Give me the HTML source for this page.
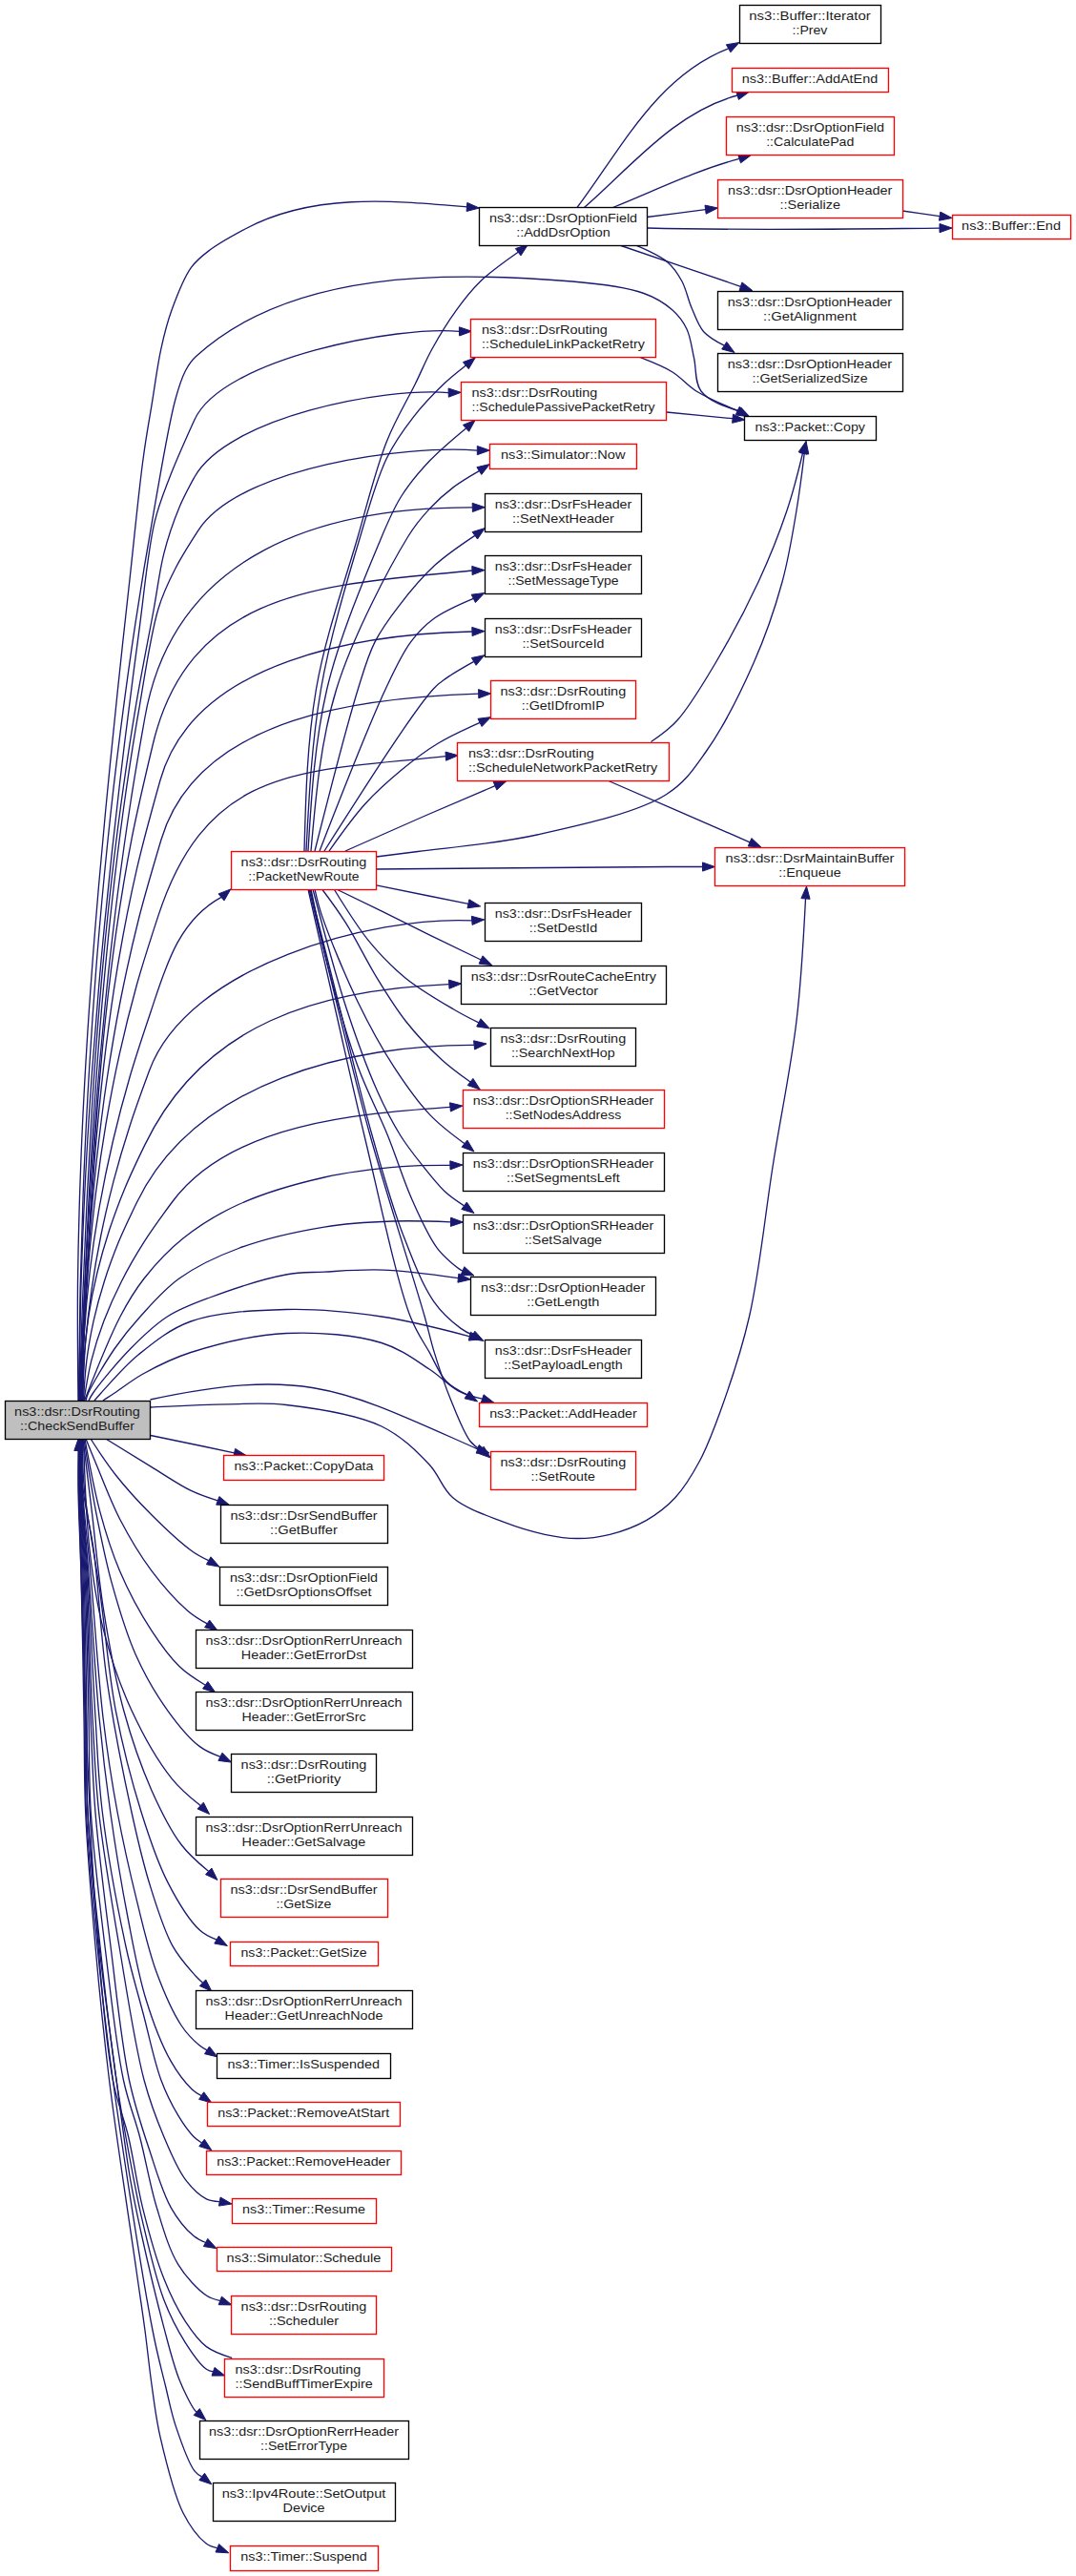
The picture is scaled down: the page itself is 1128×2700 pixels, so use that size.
<!DOCTYPE html><html><head><meta charset="utf-8"><style>html,body{margin:0;padding:0;background:#fff;}svg{display:block;}text{font-family:"Liberation Sans",sans-serif;font-size:12.9px;fill:#1c1c1c;}</style></head><body>
<svg width="1128" height="2700" viewBox="0 0 1128 2700">
<g fill="none" stroke="#191970" stroke-width="1.33">
<path d="M605.0,217.5C650.6,157.0 688.3,80.0 763.6,50.8"/>
<path d="M612.5,217.5C661.1,175.3 707.9,117.1 773.1,100.0"/>
<path d="M642.5,217.5C686.4,199.9 729.1,178.7 775.1,166.4"/>
<path d="M678.5,227.5C698.9,224.9 719.2,222.3 739.6,219.7"/>
<path d="M678.5,239.0C780.2,241.7 882.5,240.1 985.0,239.1"/>
<path d="M946.0,221.0C959.0,222.9 972.1,224.8 985.1,226.6"/>
<path d="M651.0,257.5C692.8,271.8 734.6,286.0 776.4,300.3"/>
<path d="M667.5,257.5C679.6,262.7 691.8,267.9 700.0,275.0C706.8,280.8 710.9,287.5 715.0,295.0C719.4,303.2 721.2,313.7 725.0,322.5C728.7,331.1 731.7,340.8 737.5,347.5C743.2,354.0 751.2,358.1 759.2,362.2"/>
<path d="M670.0,374.2C682.3,379.0 694.7,383.7 705.0,390.0C714.4,395.8 720.1,403.8 730.0,410.0C742.1,417.5 757.7,424.0 773.2,430.4"/>
<path d="M698.8,432.0C721.9,434.2 745.0,436.5 768.1,438.7"/>
<path d="M682.5,777.5C691.6,771.3 700.8,765.2 710.0,755.0C723.2,740.5 736.8,717.1 750.0,695.0C765.2,669.5 782.1,637.8 795.0,610.0C806.8,584.5 817.0,558.8 825.0,535.0C832.0,514.1 836.8,494.6 841.5,475.0"/>
<path d="M394.5,898.0C407.1,896.5 419.8,894.9 438.0,892.5C468.9,888.4 520.9,884.4 563.0,875.0C607.5,865.0 667.3,852.3 698.0,833.0C718.2,820.3 726.6,806.8 740.0,788.0C757.6,763.4 776.4,725.8 790.0,695.0C802.6,666.5 812.4,637.7 820.0,610.0C827.0,584.5 831.0,558.6 835.0,535.0C838.5,514.0 840.9,494.7 843.2,475.4"/>
<path d="M394.5,911.0C433.0,910.7 471.5,910.3 510.0,910.0C573.3,909.5 636.7,909.0 700.0,908.5C712.2,908.4 724.3,908.5 736.5,908.5"/>
<path d="M638.0,818.5C687.4,839.9 736.7,861.4 786.1,882.8"/>
<path d="M157.5,1475.0C186.0,1473.6 214.6,1472.1 239.9,1471.8C261.5,1471.5 277.6,1469.9 300.0,1472.5C329.3,1475.9 373.5,1482.3 400.0,1495.0C420.9,1505.1 436.9,1521.2 450.0,1535.0C460.7,1546.3 463.5,1560.4 475.0,1570.0C488.4,1581.3 511.3,1588.8 528.3,1595.4C543.1,1601.1 557.4,1605.4 571.0,1608.3C582.9,1610.8 593.8,1612.5 605.2,1612.5C616.6,1612.5 627.8,1611.2 639.4,1608.3C652.1,1605.1 666.3,1599.9 677.9,1593.3C689.0,1587.0 698.9,1579.4 707.8,1569.8C717.6,1559.2 725.9,1545.5 733.5,1531.3C741.8,1515.8 747.6,1500.1 754.9,1480.0C764.9,1452.4 776.9,1417.6 785.5,1380.0C796.3,1333.2 802.1,1272.5 810.5,1220.0C818.6,1169.2 829.3,1118.1 835.0,1070.0C840.3,1025.8 842.4,983.9 844.5,942.0"/>
<path d="M82.0,1468.0C81.5,1426.8 81.1,1385.7 81.5,1344.5C82.0,1303.3 83.1,1262.2 84.7,1221.0C86.2,1179.8 88.4,1138.7 90.9,1097.5C93.4,1056.3 96.4,1015.2 99.7,974.0C103.0,932.8 106.7,891.7 110.6,850.5C114.5,809.3 118.7,768.2 123.0,727.0C127.3,685.8 131.8,644.7 136.4,603.5C140.9,562.3 145.6,513.5 150.2,480.0C153.3,456.9 156.4,440.8 159.5,421.6C162.6,402.8 165.0,382.9 168.8,365.8C172.0,351.0 175.0,338.7 180.0,325.0C185.4,310.2 192.4,291.5 200.4,280.4C206.3,272.2 212.0,268.0 220.0,262.0C230.1,254.4 243.5,247.2 257.0,240.0C328.1,201.9 411.9,210.2 489.4,216.9"/>
<path d="M82.5,1468.0C82.9,1429.2 83.3,1390.4 84.1,1351.6C85.0,1312.7 86.2,1273.9 87.8,1235.1C89.4,1196.3 91.3,1157.5 93.7,1118.7C96.0,1079.8 98.7,1041.0 101.8,1002.2C105.0,963.4 108.5,924.6 112.5,885.8C116.5,846.9 120.9,808.1 125.9,769.3C130.8,730.5 136.1,691.7 142.0,652.9C147.9,614.0 154.3,575.2 161.2,536.4C168.1,497.6 176.4,446.5 183.5,420.0C187.3,405.9 190.1,396.6 194.6,388.2C197.9,382.0 201.5,377.2 205.8,373.3C305.7,282.4 470.0,284.4 600.0,295.0C628.1,297.3 656.1,300.7 675.0,307.5C687.8,312.1 697.2,318.1 705.0,325.0C711.6,330.9 716.3,337.2 720.0,345.0C724.1,353.6 725.1,364.6 727.5,375.0C730.1,386.2 728.1,400.9 735.0,410.0C742.7,420.2 758.6,425.5 774.5,430.9"/>
<path d="M83.0,1468.0C83.4,1429.7 83.8,1391.3 84.8,1353.0C85.9,1314.6 87.5,1276.3 89.4,1238.0C91.4,1199.6 93.8,1161.3 96.5,1123.0C99.3,1084.6 102.5,1046.3 105.9,1008.0C109.4,969.6 113.3,931.3 117.4,892.9C121.6,854.6 126.0,816.2 130.7,777.9C135.4,739.6 140.4,701.2 145.6,662.9C150.8,624.6 154.9,577.7 161.9,547.9C166.6,528.2 171.6,516.7 178.0,500.0C185.3,481.0 194.6,460.5 203.9,440.0C233.3,375.2 420.2,340.8 481.5,347.4"/>
<path d="M83.0,1468.0C84.1,1433.4 85.2,1398.8 86.5,1364.2C87.9,1329.7 89.3,1295.1 91.0,1260.5C92.7,1225.9 94.5,1191.3 96.7,1156.8C98.9,1122.2 101.4,1087.6 104.3,1053.0C107.1,1018.4 110.3,983.8 114.0,949.2C117.7,914.6 121.8,880.0 126.5,845.5C131.2,810.9 136.3,776.3 142.1,741.8C147.9,707.1 155.9,667.6 161.3,638.0C165.4,615.8 167.2,598.1 171.9,579.8C176.2,562.9 182.0,546.1 187.9,531.9C192.8,520.0 198.4,510.0 203.9,500.0C238.4,437.6 401.5,405.8 470.2,411.6"/>
<path d="M83.5,1468.0C84.9,1433.4 86.3,1398.8 87.9,1364.2C89.5,1329.7 91.1,1295.1 92.9,1260.5C94.8,1225.9 96.7,1191.3 99.1,1156.8C101.4,1122.2 103.9,1087.6 106.9,1053.0C109.9,1018.4 113.2,983.8 117.0,949.2C120.8,914.6 125.0,880.0 129.8,845.5C134.6,810.9 139.9,776.3 146.0,741.8C152.0,707.1 157.9,664.6 166.0,638.0C171.3,620.5 176.9,609.4 183.9,595.8C190.9,582.1 199.4,569.0 207.9,555.9C251.1,489.4 425.8,466.2 500.3,472.1"/>
<path d="M84.0,1468.0C85.1,1438.2 86.3,1408.3 87.7,1378.5C89.0,1348.7 90.5,1318.8 92.2,1289.0C93.9,1259.2 95.7,1229.3 97.9,1199.5C100.0,1169.7 102.3,1139.8 104.9,1110.0C107.5,1080.2 110.4,1050.3 113.5,1020.5C116.8,990.7 120.2,960.8 124.1,931.0C128.0,901.1 132.2,871.3 136.8,841.5C141.4,811.6 146.6,781.8 151.9,752.0C182.3,578.0 340.6,531.6 495.3,531.9"/>
<path d="M84.0,1468.0C85.8,1435.2 87.6,1402.5 89.4,1369.7C91.2,1337.0 92.8,1304.2 94.7,1271.4C96.7,1238.7 98.7,1205.9 101.2,1173.1C103.7,1140.4 106.4,1107.6 109.8,1074.9C113.2,1042.1 117.1,1009.3 121.8,976.6C126.5,943.8 131.8,911.0 138.2,878.3C144.7,845.4 152.5,812.7 160.3,780.0C200.2,612.8 348.6,613.2 494.9,598.0"/>
<path d="M84.5,1468.0C86.0,1437.0 87.5,1406.1 89.1,1375.1C90.8,1344.2 92.3,1313.2 94.4,1282.3C96.5,1251.3 98.6,1220.4 101.4,1189.4C104.2,1158.5 107.3,1127.5 111.2,1096.6C115.1,1065.6 119.5,1034.6 124.9,1003.7C130.2,972.7 136.3,941.7 143.4,910.9C150.6,879.8 159.2,848.9 167.9,818.0C203.8,689.8 383.6,664.4 494.9,662.0"/>
<path d="M85.0,1468.0C86.0,1440.0 87.0,1412.0 88.5,1384.0C89.9,1356.0 91.5,1328.0 93.7,1300.0C95.8,1272.0 98.3,1244.0 101.3,1216.0C104.4,1188.0 107.8,1160.0 112.0,1132.0C116.2,1104.0 120.9,1075.9 126.4,1048.0C132.0,1019.9 138.2,991.9 145.2,964.0C152.3,935.9 160.7,908.0 169.0,880.0C208.4,747.9 387.9,730.9 501.7,727.2"/>
<path d="M85.5,1468.0C86.2,1443.8 86.9,1419.6 88.2,1395.4C89.4,1371.2 91.0,1347.0 93.0,1322.8C95.1,1298.6 97.5,1274.4 100.5,1250.2C103.5,1226.0 107.0,1201.8 111.1,1177.7C115.2,1153.4 119.8,1129.2 125.2,1105.1C130.6,1080.8 136.6,1056.6 143.3,1032.5C150.1,1008.2 158.0,984.0 165.9,959.9C218.5,799.1 320.6,809.0 467.3,792.6"/>
<path d="M86.0,1468.0C86.4,1445.3 86.8,1422.6 88.2,1400.0C89.6,1377.3 91.6,1354.6 94.3,1332.0C97.0,1309.3 100.4,1286.6 104.4,1264.0C108.4,1241.3 113.1,1218.6 118.4,1196.0C123.7,1173.3 129.7,1150.6 136.3,1128.0C143.0,1105.2 150.6,1082.6 158.2,1060.0C173.3,1015.1 186.1,965.5 232.0,940.4"/>
<path d="M86.5,1468.0C87.2,1448.8 87.9,1429.5 89.4,1410.3C91.0,1391.1 93.2,1371.8 95.9,1352.7C98.6,1333.4 101.9,1314.2 105.8,1295.0C109.7,1275.7 114.2,1256.5 119.2,1237.3C124.3,1218.0 130.0,1198.8 136.2,1179.7C142.4,1160.4 149.5,1141.2 156.6,1122.0C197.3,1011.7 390.2,960.1 494.7,964.9"/>
<path d="M87.0,1468.0C87.0,1453.1 87.1,1438.2 88.1,1423.3C89.0,1408.4 90.7,1393.5 93.0,1378.6C95.3,1363.7 98.3,1348.8 101.9,1334.0C105.5,1319.0 109.8,1304.1 114.6,1289.3C119.6,1274.3 125.1,1259.4 131.3,1244.6C137.5,1229.6 144.7,1214.7 151.9,1199.9C213.9,1071.5 335.3,1037.3 470.7,1031.7"/>
<path d="M87.5,1468.0C88.3,1454.1 89.0,1440.2 90.8,1426.4C92.5,1412.5 95.0,1398.6 98.0,1384.8C101.1,1370.9 104.9,1357.0 109.3,1343.2C113.7,1329.2 118.8,1315.4 124.4,1301.6C130.2,1287.6 136.9,1273.8 143.6,1260.0C205.3,1132.8 369.1,1094.8 497.1,1095.4"/>
<path d="M88.0,1468.0C90.1,1454.1 92.3,1440.2 95.7,1426.4C99.2,1412.4 103.6,1398.5 108.8,1384.8C114.1,1370.8 120.3,1356.9 127.3,1343.2C134.4,1329.1 142.4,1315.3 151.1,1301.6C160.1,1287.5 170.2,1273.8 180.4,1260.0C242.3,1176.1 379.2,1167.2 472.0,1160.4"/>
<path d="M88.5,1468.0C101.2,1435.6 113.8,1403.3 126.0,1380.0C134.5,1363.7 140.9,1353.0 151.1,1340.0C162.4,1325.6 176.2,1310.5 191.9,1298.0C208.8,1284.5 227.8,1272.6 250.0,1262.5C276.1,1250.6 310.4,1240.7 340.0,1234.0C367.6,1227.8 397.8,1224.7 421.8,1222.7C440.5,1221.2 456.2,1221.3 471.9,1221.4"/>
<path d="M90.0,1468.0C90.5,1465.8 91.0,1463.6 92.6,1460.0C96.8,1450.8 110.6,1427.4 120.2,1413.5C128.8,1401.1 136.7,1391.3 147.0,1380.0C158.9,1366.9 171.8,1351.5 187.9,1340.0C205.6,1327.3 226.8,1317.1 250.0,1308.5C276.7,1298.5 311.5,1290.8 340.0,1286.1C365.1,1281.9 388.7,1280.8 411.6,1280.0C432.7,1279.2 452.6,1280.0 472.5,1280.8"/>
<path d="M93.0,1468.0C94.0,1465.8 95.1,1463.6 97.6,1460.0C104.1,1450.7 123.3,1427.3 136.9,1413.5C149.3,1400.9 161.4,1389.0 175.4,1380.0C189.1,1371.2 202.7,1366.4 219.9,1360.0C242.4,1351.6 277.5,1340.1 299.8,1336.0C315.3,1333.1 325.2,1333.9 340.0,1333.1C358.3,1332.1 379.6,1330.3 401.3,1331.1C426.0,1332.0 453.2,1335.8 480.4,1339.6"/>
<path d="M99.0,1468.0C100.8,1465.8 102.7,1463.6 106.0,1460.0C113.7,1451.7 130.1,1432.1 145.0,1420.0C161.1,1406.9 177.9,1393.0 200.0,1385.0C227.5,1375.1 266.6,1373.3 300.0,1372.5C333.3,1371.7 367.5,1375.2 400.0,1380.0C431.6,1384.7 461.9,1392.7 492.3,1400.7"/>
<path d="M108.0,1468.0C111.6,1465.6 115.3,1463.3 120.2,1460.0C128.0,1454.9 138.5,1446.4 150.0,1440.0C164.2,1432.1 180.0,1423.9 200.0,1417.5C227.2,1408.8 266.5,1399.1 300.0,1397.5C333.2,1395.9 373.1,1399.1 400.0,1407.5C420.3,1413.8 435.7,1425.8 450.0,1435.0C461.7,1442.5 470.3,1452.5 480.4,1457.8C488.8,1462.2 497.3,1464.2 505.7,1466.2"/>
<path d="M157.5,1467.0C321.6,1432.1 359.8,1456.4 500.7,1518.8"/>
<path d="M319.0,892.0C320.5,834.7 322.0,777.4 331.5,722.0C340.9,667.4 361.8,608.9 375.3,562.0C386.0,524.9 394.0,491.3 405.4,462.7C414.6,439.6 426.8,419.7 435.5,402.0C442.2,388.3 446.3,377.8 453.1,365.5C460.4,352.2 469.4,337.5 478.2,325.3C486.2,314.2 493.4,304.8 503.3,295.2C514.6,284.3 528.9,274.3 543.2,264.3"/>
<path d="M321.0,892.0C323.9,834.7 326.9,777.4 336.5,722.0C346.0,667.5 364.6,606.3 377.8,562.0C387.3,530.0 394.6,502.6 405.4,480.3C413.7,463.2 422.8,450.8 433.0,437.6C442.9,424.7 455.5,411.7 465.7,402.0C473.7,394.4 481.0,388.8 488.3,383.1"/>
<path d="M323.0,892.0C326.4,834.5 329.9,777.1 342.8,722.0C355.7,667.1 385.4,597.7 400.4,562.0C408.2,543.4 412.3,533.6 420.5,520.5C428.9,507.1 439.4,494.6 450.6,482.8C462.1,470.7 475.3,459.8 488.5,448.9"/>
<path d="M326.0,892.0C331.0,834.3 336.0,776.7 352.8,722.0C369.8,666.6 408.8,593.3 428.0,562.0C436.8,547.7 442.5,541.7 450.6,533.0C458.4,524.6 466.9,517.1 475.7,510.4C484.2,504.0 493.2,498.8 502.3,493.6"/>
<path d="M330.0,892.0C346.5,826.7 363.1,761.4 375.4,722.0C382.1,700.5 385.5,687.8 393.0,672.9C399.9,659.1 408.3,647.9 418.0,635.3C428.9,621.1 442.1,605.1 455.7,592.6C468.8,580.6 483.3,571.0 497.9,561.3"/>
<path d="M335.0,892.0C360.4,826.6 385.8,761.3 404.3,722.0C414.5,700.4 420.9,686.0 430.6,672.9C438.4,662.4 445.6,655.1 455.7,647.8C467.1,639.6 481.7,633.5 496.3,627.3"/>
<path d="M340.0,892.0C386.8,818.4 433.7,744.9 454.4,722.0C460.5,715.2 462.6,714.6 468.2,710.6C475.8,705.2 486.3,699.3 496.8,693.4"/>
<path d="M345.0,892.0C357.3,874.6 369.6,857.1 382.9,842.5C395.0,829.2 407.7,818.0 420.6,807.3C432.8,797.1 444.7,787.9 458.2,779.7C472.2,771.2 487.6,764.3 503.1,757.4"/>
<path d="M362.0,892.0C390.3,879.4 418.7,866.7 445.7,855.0C470.9,844.0 495.0,833.9 519.0,823.7"/>
<path d="M394.5,927.9C426.7,934.4 458.8,940.9 491.0,947.3"/>
<path d="M352.7,932.0C368.5,939.6 384.3,947.2 400.4,955.1C416.9,963.2 433.6,971.8 450.6,980.2C468.1,988.8 486.1,997.4 504.1,1006.0"/>
<path d="M350.2,932.0C362.3,951.7 374.4,971.5 387.8,987.7C399.7,1002.1 411.4,1014.0 425.5,1025.4C440.5,1037.5 461.5,1049.6 475.7,1058.0C485.7,1063.9 493.7,1067.9 501.8,1071.9"/>
<path d="M337.6,932.0C345.9,943.0 354.1,954.1 362.7,967.6C373.3,984.3 384.4,1007.5 395.4,1025.4C405.3,1041.6 414.3,1056.3 425.5,1070.5C436.8,1084.8 450.8,1099.5 463.1,1110.7C473.3,1120.0 483.2,1127.0 493.0,1134.0"/>
<path d="M330.0,932.0C331.8,940.1 333.5,948.2 337.6,960.1C345.0,981.9 361.9,1022.9 375.3,1050.5C387.2,1075.1 399.6,1097.7 412.9,1118.2C424.9,1136.6 437.3,1154.4 450.6,1168.4C462.2,1180.6 474.6,1189.6 487.0,1198.7"/>
<path d="M328.0,932.0C339.2,975.0 350.5,1018.1 362.7,1055.5C373.1,1087.5 384.6,1118.9 395.4,1143.3C403.5,1161.6 411.2,1176.3 419.7,1190.0C426.9,1201.6 434.3,1210.8 442.2,1220.7C450.0,1230.6 458.6,1241.7 466.8,1249.3C473.4,1255.4 480.0,1259.6 486.5,1263.8"/>
<path d="M326.0,932.0C331.7,960.1 337.5,988.2 345.2,1017.8C353.6,1050.1 364.2,1087.8 375.3,1118.2C384.9,1144.4 396.8,1166.3 406.4,1190.0C415.6,1212.7 422.7,1236.8 432.0,1257.5C440.3,1276.0 448.7,1295.6 458.6,1308.6C466.1,1318.5 479.4,1328.7 483.1,1331.1C484.0,1331.7 484.5,1331.8 485.0,1331.9"/>
<path d="M325.0,932.0C335.6,974.6 346.2,1017.2 357.0,1060.0C367.9,1103.2 378.6,1149.4 390.1,1190.0C400.3,1226.3 410.1,1261.5 421.8,1292.2C431.9,1318.5 442.2,1346.1 454.5,1363.8C463.3,1376.5 475.1,1386.4 483.1,1392.4C487.8,1395.9 491.7,1397.6 495.6,1399.3"/>
<path d="M323.0,932.0C332.6,974.6 342.2,1017.2 352.0,1060.0C361.9,1103.2 370.4,1142.6 381.9,1190.0C395.8,1247.4 415.3,1341.5 430.2,1380.0C437.2,1397.9 443.7,1405.8 450.3,1417.6C456.2,1428.3 460.6,1440.2 467.8,1447.8C474.0,1454.3 481.8,1458.1 489.6,1461.9"/>
<path d="M324.0,932.0C334.2,974.6 344.4,1017.2 355.0,1060.0C365.7,1103.2 374.9,1142.7 388.0,1190.0C403.9,1247.5 434.1,1340.9 445.2,1380.0C450.1,1397.3 451.2,1404.2 455.3,1417.6C460.1,1433.2 466.3,1451.9 472.8,1467.8C478.9,1482.8 486.1,1501.8 492.9,1510.5C496.7,1515.3 500.4,1517.5 504.2,1519.8"/>
<path d="M157.9,1504.5C187.2,1510.4 216.4,1516.6 245.6,1522.9"/>
<path d="M110.8,1508.0C127.1,1518.1 143.4,1528.2 158.9,1537.6C173.3,1546.4 188.0,1556.6 200.8,1562.7C210.7,1567.4 219.5,1570.2 228.3,1572.9"/>
<path d="M95.0,1508.0C103.1,1520.7 111.3,1533.3 121.3,1546.0C132.3,1560.0 145.7,1574.6 158.9,1587.8C172.2,1601.1 189.4,1617.2 200.8,1625.5C207.7,1630.5 213.2,1633.1 218.7,1635.7"/>
<path d="M90.0,1508.0C93.1,1515.6 96.1,1523.3 100.4,1533.5C106.9,1549.0 115.8,1573.2 125.5,1592.0C135.3,1610.8 146.6,1630.0 158.9,1646.4C170.4,1661.8 185.4,1678.5 196.6,1688.2C204.0,1694.6 210.6,1698.3 217.2,1701.9"/>
<path d="M89.0,1508.0C93.6,1533.9 98.2,1559.7 104.6,1583.6C110.5,1605.7 116.7,1625.8 125.5,1646.4C134.6,1667.7 147.3,1691.3 158.9,1709.1C168.4,1723.7 177.9,1736.8 188.2,1746.8C196.8,1755.1 206.0,1760.7 215.3,1766.3"/>
<path d="M88.0,1508.0C91.8,1533.2 95.6,1558.5 100.4,1583.6C105.3,1608.8 110.2,1634.0 117.1,1658.9C124.1,1684.2 131.9,1711.1 142.2,1734.2C151.7,1755.5 163.6,1776.0 175.7,1792.8C186.1,1807.3 198.4,1822.2 209.1,1830.4C216.6,1836.1 223.8,1838.7 231.0,1841.3"/>
<path d="M87.5,1508.0C88.7,1548.9 90.0,1589.8 94.1,1625.5C97.6,1655.8 101.5,1681.5 108.7,1709.1C116.0,1737.3 125.9,1766.6 138.0,1792.8C149.7,1818.1 165.7,1846.2 179.8,1863.9C189.8,1876.5 200.0,1884.5 210.2,1892.6"/>
<path d="M87.0,1508.0C90.0,1532.2 92.9,1556.4 96.2,1583.6C100.1,1615.6 103.1,1653.4 108.7,1688.2C114.3,1723.2 120.8,1760.2 129.7,1792.8C137.8,1822.5 147.9,1851.6 158.9,1876.4C168.4,1897.7 178.7,1918.5 190.1,1933.5C199.0,1945.3 208.9,1953.3 218.7,1961.4"/>
<path d="M86.5,1508.0C86.5,1523.8 86.4,1539.6 88.3,1560.0C91.0,1589.4 99.3,1630.1 104.6,1667.3C110.3,1707.5 113.6,1752.8 121.3,1792.8C128.5,1830.2 138.3,1868.0 148.3,1900.0C156.7,1926.8 164.7,1951.2 175.7,1972.6C185.4,1991.5 198.5,2012.9 209.1,2022.8C215.3,2028.6 221.2,2030.8 227.1,2033.1"/>
<path d="M86.0,1508.0C85.6,1524.9 85.3,1541.7 87.0,1560.0C89.0,1580.6 94.8,1599.7 98.3,1625.5C103.3,1662.3 105.5,1714.9 112.0,1760.0C118.7,1806.3 129.5,1860.8 138.1,1900.0C144.4,1928.8 149.4,1950.5 156.7,1974.3C163.7,1996.9 171.3,2022.1 180.8,2039.4C188.0,2052.5 199.0,2064.3 205.0,2071.0C208.1,2074.4 210.3,2076.3 212.5,2078.2"/>
<path d="M86.0,1508.0C85.7,1524.2 85.5,1540.3 86.5,1560.0C87.8,1585.9 91.9,1616.2 95.0,1650.0C99.0,1693.6 102.7,1755.1 108.0,1800.0C112.4,1836.8 117.1,1867.4 123.2,1900.0C129.1,1931.6 136.4,1963.7 143.6,1992.9C150.1,2019.2 155.7,2044.6 164.1,2067.3C171.6,2087.5 181.1,2109.5 190.1,2123.0C196.1,2132.1 203.5,2139.1 208.7,2143.5C211.8,2146.1 214.4,2147.5 217.0,2148.8"/>
<path d="M85.5,1508.0C85.3,1524.2 85.1,1540.3 86.0,1560.0C87.1,1585.9 90.4,1616.2 93.0,1650.0C96.3,1693.6 99.7,1755.1 104.0,1800.0C107.5,1836.7 111.0,1865.8 115.8,1900.0C120.9,1936.2 127.6,1977.1 134.3,2011.5C140.1,2041.5 144.9,2069.4 152.9,2095.2C160.1,2118.6 169.4,2143.2 179.0,2160.2C186.0,2172.6 194.9,2183.9 201.3,2190.0C204.9,2193.4 208.0,2195.0 211.1,2196.6"/>
<path d="M85.5,1508.0C85.1,1524.2 84.8,1540.3 85.5,1560.0C86.4,1585.9 89.9,1616.2 92.0,1650.0C94.7,1693.6 97.1,1755.1 100.0,1800.0C102.3,1836.7 102.9,1864.0 107.4,1900.0C112.7,1942.9 123.6,2001.5 131.9,2040.0C137.8,2067.5 143.9,2086.7 150.0,2110.0C156.2,2133.3 161.6,2160.6 168.8,2180.0C174.2,2194.6 180.4,2206.6 186.7,2217.2C191.9,2225.9 198.1,2234.5 203.0,2239.5C206.1,2242.6 208.8,2244.3 211.5,2246.0"/>
<path d="M85.0,1508.0C84.7,1524.2 84.3,1540.3 85.0,1560.0C85.9,1585.9 89.2,1616.2 91.0,1650.0C93.3,1693.6 94.6,1755.1 97.0,1800.0C99.0,1836.7 99.8,1864.0 103.7,1900.0C108.4,1942.8 117.1,1993.4 125.0,2040.0C132.9,2086.7 141.3,2143.5 151.0,2180.0C157.5,2204.3 164.1,2221.3 171.8,2239.5C178.6,2255.7 185.5,2272.6 194.1,2284.1C200.8,2293.1 209.4,2301.3 216.4,2304.9C221.2,2307.3 225.7,2307.4 230.2,2307.6"/>
<path d="M85.0,1508.0C84.5,1524.2 84.0,1540.3 84.5,1560.0C85.2,1585.9 88.4,1616.2 90.0,1650.0C92.1,1693.6 93.1,1755.1 95.0,1800.0C96.5,1836.7 97.0,1863.9 100.0,1900.0C103.5,1942.8 110.1,1993.4 116.0,2040.0C121.9,2086.7 127.1,2140.9 135.4,2180.0C141.6,2208.9 149.2,2231.0 156.9,2254.3C163.9,2275.4 170.2,2297.9 179.2,2313.8C186.2,2326.1 195.7,2337.5 203.0,2343.6C207.5,2347.3 211.5,2348.9 215.6,2350.5"/>
<path d="M84.5,1508.0C84.0,1524.2 83.5,1540.3 84.0,1560.0C84.6,1585.9 87.6,1616.2 89.0,1650.0C90.8,1693.6 91.9,1755.1 93.0,1800.0C93.9,1836.7 93.0,1863.9 95.3,1900.0C98.0,1942.8 104.3,1993.4 110.0,2040.0C115.7,2086.7 121.6,2143.4 129.4,2180.0C134.5,2204.2 141.0,2218.5 146.5,2239.5C152.6,2262.8 157.2,2290.6 164.3,2313.8C170.8,2334.9 176.8,2357.2 186.7,2373.3C194.9,2386.8 207.6,2400.0 216.4,2406.0C221.6,2409.5 226.2,2410.4 230.8,2411.4"/>
<path d="M84.0,1508.0C83.6,1524.2 83.1,1540.3 83.5,1560.0C84.0,1585.9 86.8,1616.2 88.0,1650.0C89.5,1693.6 90.3,1755.0 91.0,1800.0C91.6,1836.7 90.1,1863.9 92.0,1900.0C94.2,1942.8 100.0,1993.4 105.0,2040.0C110.0,2086.7 116.3,2140.7 122.0,2180.0C126.2,2208.7 130.0,2229.6 134.6,2254.3C139.2,2279.1 143.5,2303.4 149.5,2328.7C155.8,2355.4 163.1,2387.7 171.8,2410.5C178.5,2428.0 186.0,2442.3 194.1,2455.1C201.0,2466.0 210.5,2479.1 216.4,2483.3C219.1,2485.2 221.3,2485.5 223.5,2485.8"/>
<path d="M83.5,1508.0C83.1,1524.2 82.7,1540.3 83.0,1560.0C83.5,1585.9 85.9,1616.2 87.0,1650.0C88.4,1693.6 88.8,1755.1 89.7,1800.0C90.5,1836.7 90.0,1863.9 92.0,1900.0C94.3,1942.8 99.0,1993.4 104.0,2040.0C109.0,2086.7 116.3,2137.3 122.0,2180.0C126.8,2216.1 131.0,2251.0 135.9,2280.0C139.7,2302.6 143.0,2317.5 147.9,2340.0C154.3,2369.1 164.4,2411.7 171.9,2439.9C177.5,2460.8 181.8,2478.6 187.9,2494.0C192.7,2506.3 200.7,2521.6 203.9,2525.9C204.9,2527.2 205.6,2527.6 206.2,2528.0"/>
<path d="M83.0,1508.0C82.6,1524.2 82.2,1540.3 82.5,1560.0C82.9,1585.9 85.0,1616.2 86.0,1650.0C87.3,1693.6 88.2,1755.1 89.0,1800.0C89.6,1836.7 88.7,1863.9 90.5,1900.0C92.6,1942.8 97.4,1993.4 102.0,2040.0C106.6,2086.7 110.9,2126.2 118.3,2180.0C128.5,2253.9 149.0,2386.2 159.9,2442.0C165.0,2468.4 169.0,2482.3 173.3,2500.0C177.0,2515.1 179.2,2527.6 183.9,2541.9C189.1,2557.5 197.7,2581.8 203.9,2589.9C206.6,2593.4 209.1,2594.7 211.6,2595.9"/>
<path d="M82.5,1508.0C82.1,1524.2 81.8,1540.3 82.0,1560.0C82.3,1585.9 84.1,1616.2 85.0,1650.0C86.2,1693.6 87.2,1755.1 88.0,1800.0C88.7,1836.7 88.1,1863.9 89.7,1900.0C91.6,1942.8 95.9,1993.4 100.0,2040.0C104.1,2086.7 108.3,2129.2 114.5,2180.0C122.0,2240.8 136.2,2332.3 143.0,2380.0C146.8,2406.6 149.2,2421.7 151.9,2442.0C154.5,2461.6 156.4,2481.0 159.1,2500.0C161.7,2518.3 163.4,2534.3 167.9,2553.9C173.5,2578.1 181.8,2613.8 191.9,2633.8C198.9,2647.6 208.5,2660.1 215.9,2665.8C220.1,2669.1 223.9,2669.9 227.8,2670.8"/>
<path d="M243.2,2471.4C233.8,2468.5 224.3,2465.6 216.4,2459.6C207.8,2453.1 201.0,2443.3 194.1,2432.8C185.9,2420.2 178.6,2405.3 171.8,2388.2C163.3,2366.9 155.7,2338.7 149.5,2313.8C143.4,2289.2 140.1,2262.8 134.6,2239.5C129.6,2218.5 123.0,2205.4 118.3,2180.0C110.2,2136.4 104.7,2061.6 100.0,2000.0C95.1,1935.2 92.8,1869.0 90.0,1800.0C87.0,1726.0 83.8,1618.6 82.8,1570.0C82.4,1547.5 82.4,1534.0 82.4,1520.5"/>
</g>
<g fill="#191970" stroke="#191970" stroke-width="1">
<polygon points="775.0,44.5 765.9,54.8 761.4,46.8"/>
<polygon points="785.5,96.2 774.4,104.4 771.7,95.6"/>
<polygon points="787.5,162.5 776.5,170.8 773.7,162.0"/>
<polygon points="752.5,218.0 740.2,224.2 739.0,215.1"/>
<polygon points="998.0,239.0 985.0,243.7 985.0,234.5"/>
<polygon points="998.0,228.5 984.5,231.2 985.8,222.1"/>
<polygon points="788.8,304.5 775.0,304.7 777.9,295.9"/>
<polygon points="770.0,369.5 756.7,366.0 761.8,358.4"/>
<polygon points="785.0,436.0 771.3,434.6 775.2,426.3"/>
<polygon points="781.0,440.0 767.6,443.3 768.5,434.2"/>
<polygon points="845.0,462.5 846.0,476.3 837.1,473.8"/>
<polygon points="845.0,462.5 847.8,476.0 838.7,474.7"/>
<polygon points="749.5,908.5 736.5,913.1 736.5,903.9"/>
<polygon points="798.0,888.0 784.2,887.0 787.9,878.6"/>
<polygon points="845.5,929.0 849.1,942.3 839.9,941.6"/>
<polygon points="502.4,218.0 489.1,221.5 489.8,212.4"/>
<polygon points="786.0,437.0 772.4,435.0 776.7,426.9"/>
<polygon points="494.5,347.2 481.6,352.0 481.4,342.8"/>
<polygon points="483.2,411.3 470.3,416.2 470.1,407.0"/>
<polygon points="513.3,472.0 500.3,476.7 500.3,467.5"/>
<polygon points="508.3,531.7 495.4,536.5 495.2,527.3"/>
<polygon points="507.9,597.6 495.1,602.6 494.8,593.4"/>
<polygon points="507.9,661.6 495.1,666.6 494.8,657.4"/>
<polygon points="514.7,727.0 501.8,731.8 501.6,722.6"/>
<polygon points="480.3,791.8 467.6,797.2 467.0,788.1"/>
<polygon points="241.9,931.9 235.0,943.9 229.0,936.9"/>
<polygon points="507.7,963.9 495.1,969.4 494.4,960.3"/>
<polygon points="483.7,1031.0 471.0,1036.3 470.5,1027.1"/>
<polygon points="510.0,1094.0 497.6,1100.0 496.6,1090.8"/>
<polygon points="484.9,1159.1 472.4,1165.0 471.5,1155.8"/>
<polygon points="484.9,1221.0 472.0,1225.9 471.8,1216.8"/>
<polygon points="485.5,1281.0 472.4,1285.4 472.6,1276.2"/>
<polygon points="493.3,1341.0 479.9,1344.2 480.9,1335.0"/>
<polygon points="505.0,1403.5 491.3,1405.1 493.3,1396.2"/>
<polygon points="518.0,1470.3 504.2,1470.6 507.1,1461.8"/>
<polygon points="513.0,1523.0 499.2,1523.2 502.2,1514.5"/>
<polygon points="553.5,256.3 546.0,267.9 540.4,260.6"/>
<polygon points="498.3,374.8 491.3,386.7 485.4,379.6"/>
<polygon points="498.2,440.2 491.6,452.3 485.4,445.4"/>
<polygon points="513.3,486.6 504.8,497.4 499.9,489.7"/>
<polygon points="508.3,553.6 500.6,565.0 495.1,557.6"/>
<polygon points="507.9,621.5 498.4,631.5 494.2,623.2"/>
<polygon points="507.9,686.7 499.1,697.3 494.4,689.5"/>
<polygon points="514.7,751.6 505.1,761.5 501.0,753.3"/>
<polygon points="531.0,818.6 520.8,827.9 517.2,819.5"/>
<polygon points="503.7,949.9 490.0,951.8 491.9,942.8"/>
<polygon points="515.8,1011.6 502.1,1010.1 506.1,1001.8"/>
<polygon points="513.3,1078.0 499.7,1076.0 504.0,1067.8"/>
<polygon points="503.3,1142.0 490.2,1137.6 495.9,1130.4"/>
<polygon points="497.0,1207.0 484.1,1202.2 489.9,1195.1"/>
<polygon points="497.0,1271.5 483.8,1267.5 489.3,1260.1"/>
<polygon points="497.0,1337.0 483.2,1336.2 486.8,1327.7"/>
<polygon points="507.0,1405.5 493.4,1403.3 497.8,1395.2"/>
<polygon points="500.5,1469.0 487.1,1465.8 492.1,1458.1"/>
<polygon points="514.3,1528.0 501.3,1523.3 507.1,1516.2"/>
<polygon points="258.3,1525.6 244.6,1527.4 246.6,1518.4"/>
<polygon points="240.5,1577.4 226.7,1577.2 229.9,1568.6"/>
<polygon points="230.0,1642.2 216.4,1639.7 221.0,1631.8"/>
<polygon points="228.0,1709.1 214.6,1705.7 219.7,1698.1"/>
<polygon points="225.8,1773.9 212.6,1770.0 217.9,1762.6"/>
<polygon points="242.6,1847.1 228.9,1845.4 233.0,1837.2"/>
<polygon points="219.6,1901.5 207.0,1895.9 213.3,1889.2"/>
<polygon points="228.0,1970.5 215.5,1964.7 221.9,1958.1"/>
<polygon points="238.4,2039.5 224.8,2037.1 229.4,2029.1"/>
<polygon points="221.9,2087.2 209.3,2081.5 215.7,2074.9"/>
<polygon points="227.9,2155.9 214.5,2152.7 219.5,2145.0"/>
<polygon points="221.9,2203.9 208.6,2200.4 213.7,2192.8"/>
<polygon points="221.9,2253.8 208.8,2249.6 214.3,2242.3"/>
<polygon points="243.0,2310.0 229.4,2312.1 231.1,2303.0"/>
<polygon points="227.0,2356.7 213.4,2354.5 217.8,2346.4"/>
<polygon points="243.0,2415.9 229.2,2415.7 232.4,2407.1"/>
<polygon points="235.8,2490.0 222.0,2490.1 225.0,2481.4"/>
<polygon points="215.9,2536.7 203.2,2531.4 209.3,2524.6"/>
<polygon points="221.9,2603.9 208.8,2599.5 214.5,2592.3"/>
<polygon points="239.8,2675.8 226.0,2675.0 229.6,2666.5"/>
<polygon points="82.3,1507.5 87.0,1520.5 77.8,1520.5"/>
</g>
<rect x="998.5" y="225.5" width="124.0" height="25.0" fill="#ffffff" stroke="#ff0000" stroke-width="1.33"/>
<text x="1008.1" y="240.5" textLength="103.9" lengthAdjust="spacingAndGlyphs">ns3::Buffer::End</text>
<rect x="775.5" y="5.5" width="148.0" height="40.0" fill="#ffffff" stroke="#000000" stroke-width="1.33"/>
<text x="785.2" y="20.5" textLength="127.6" lengthAdjust="spacingAndGlyphs">ns3::Buffer::Iterator</text>
<text x="830.6" y="35.5" textLength="36.8" lengthAdjust="spacingAndGlyphs">::Prev</text>
<rect x="767.5" y="71.5" width="164.0" height="25.0" fill="#ffffff" stroke="#ff0000" stroke-width="1.33"/>
<text x="777.8" y="86.5" textLength="142.4" lengthAdjust="spacingAndGlyphs">ns3::Buffer::AddAtEnd</text>
<rect x="761.5" y="122.5" width="176.0" height="40.0" fill="#ffffff" stroke="#ff0000" stroke-width="1.33"/>
<text x="771.7" y="138.0" textLength="155.2" lengthAdjust="spacingAndGlyphs">ns3::dsr::DsrOptionField</text>
<text x="803.2" y="153.0" textLength="92.2" lengthAdjust="spacingAndGlyphs">::CalculatePad</text>
<rect x="752.5" y="188.5" width="194.0" height="40.0" fill="#ffffff" stroke="#ff0000" stroke-width="1.33"/>
<text x="763.1" y="203.5" textLength="172.3" lengthAdjust="spacingAndGlyphs">ns3::dsr::DsrOptionHeader</text>
<text x="817.5" y="218.5" textLength="63.5" lengthAdjust="spacingAndGlyphs">::Serialize</text>
<rect x="752.5" y="305.5" width="194.0" height="40.0" fill="#ffffff" stroke="#000000" stroke-width="1.33"/>
<text x="762.8" y="320.5" textLength="172.3" lengthAdjust="spacingAndGlyphs">ns3::dsr::DsrOptionHeader</text>
<text x="800.1" y="335.5" textLength="97.7" lengthAdjust="spacingAndGlyphs">::GetAlignment</text>
<rect x="752.5" y="370.5" width="194.0" height="40.0" fill="#ffffff" stroke="#000000" stroke-width="1.33"/>
<text x="762.8" y="386.0" textLength="172.3" lengthAdjust="spacingAndGlyphs">ns3::dsr::DsrOptionHeader</text>
<text x="788.5" y="401.0" textLength="121.1" lengthAdjust="spacingAndGlyphs">::GetSerializedSize</text>
<rect x="780.5" y="436.5" width="138.0" height="25.0" fill="#ffffff" stroke="#000000" stroke-width="1.33"/>
<text x="791.6" y="452.0" textLength="115.4" lengthAdjust="spacingAndGlyphs">ns3::Packet::Copy</text>
<rect x="749.5" y="888.5" width="199.0" height="40.0" fill="#ffffff" stroke="#ff0000" stroke-width="1.33"/>
<text x="760.5" y="903.5" textLength="177.0" lengthAdjust="spacingAndGlyphs">ns3::dsr::DsrMaintainBuffer</text>
<text x="816.3" y="918.5" textLength="65.4" lengthAdjust="spacingAndGlyphs">::Enqueue</text>
<rect x="502.5" y="217.5" width="176.0" height="40.0" fill="#ffffff" stroke="#000000" stroke-width="1.33"/>
<text x="512.9" y="233.0" textLength="155.2" lengthAdjust="spacingAndGlyphs">ns3::dsr::DsrOptionField</text>
<text x="541.2" y="248.0" textLength="98.6" lengthAdjust="spacingAndGlyphs">::AddDsrOption</text>
<rect x="493.5" y="334.5" width="194.0" height="40.0" fill="#ffffff" stroke="#ff0000" stroke-width="1.33"/>
<text x="505.0" y="349.5" textLength="131.8" lengthAdjust="spacingAndGlyphs">ns3::dsr::DsrRouting</text>
<text x="505.0" y="364.5" textLength="170.8" lengthAdjust="spacingAndGlyphs">::ScheduleLinkPacketRetry</text>
<rect x="483.5" y="400.5" width="215.0" height="40.0" fill="#ffffff" stroke="#ff0000" stroke-width="1.33"/>
<text x="494.5" y="415.5" textLength="131.8" lengthAdjust="spacingAndGlyphs">ns3::dsr::DsrRouting</text>
<text x="494.5" y="430.5" textLength="192.1" lengthAdjust="spacingAndGlyphs">::SchedulePassivePacketRetry</text>
<rect x="513.5" y="465.5" width="154.0" height="26.0" fill="#ffffff" stroke="#ff0000" stroke-width="1.33"/>
<text x="525.0" y="481.0" textLength="130.5" lengthAdjust="spacingAndGlyphs">ns3::Simulator::Now</text>
<rect x="508.5" y="517.5" width="164.0" height="40.0" fill="#ffffff" stroke="#000000" stroke-width="1.33"/>
<text x="518.8" y="532.5" textLength="143.5" lengthAdjust="spacingAndGlyphs">ns3::dsr::DsrFsHeader</text>
<text x="537.1" y="547.5" textLength="106.8" lengthAdjust="spacingAndGlyphs">::SetNextHeader</text>
<rect x="508.5" y="582.5" width="164.0" height="40.0" fill="#ffffff" stroke="#000000" stroke-width="1.33"/>
<text x="518.8" y="598.0" textLength="143.5" lengthAdjust="spacingAndGlyphs">ns3::dsr::DsrFsHeader</text>
<text x="532.5" y="613.0" textLength="116.0" lengthAdjust="spacingAndGlyphs">::SetMessageType</text>
<rect x="508.5" y="648.5" width="164.0" height="40.0" fill="#ffffff" stroke="#000000" stroke-width="1.33"/>
<text x="518.8" y="663.5" textLength="143.5" lengthAdjust="spacingAndGlyphs">ns3::dsr::DsrFsHeader</text>
<text x="547.4" y="678.5" textLength="86.1" lengthAdjust="spacingAndGlyphs">::SetSourceId</text>
<rect x="514.5" y="713.5" width="152.0" height="40.0" fill="#ffffff" stroke="#ff0000" stroke-width="1.33"/>
<text x="524.4" y="728.5" textLength="131.8" lengthAdjust="spacingAndGlyphs">ns3::dsr::DsrRouting</text>
<text x="546.8" y="743.5" textLength="86.9" lengthAdjust="spacingAndGlyphs">::GetIDfromIP</text>
<rect x="479.5" y="778.5" width="222.0" height="40.0" fill="#ffffff" stroke="#ff0000" stroke-width="1.33"/>
<text x="491.0" y="794.0" textLength="131.8" lengthAdjust="spacingAndGlyphs">ns3::dsr::DsrRouting</text>
<text x="491.0" y="809.0" textLength="198.2" lengthAdjust="spacingAndGlyphs">::ScheduleNetworkPacketRetry</text>
<rect x="508.5" y="946.5" width="164.0" height="40.0" fill="#ffffff" stroke="#000000" stroke-width="1.33"/>
<text x="518.8" y="962.0" textLength="143.5" lengthAdjust="spacingAndGlyphs">ns3::dsr::DsrFsHeader</text>
<text x="554.8" y="977.0" textLength="71.5" lengthAdjust="spacingAndGlyphs">::SetDestId</text>
<rect x="483.5" y="1012.5" width="215.0" height="40.0" fill="#ffffff" stroke="#000000" stroke-width="1.33"/>
<text x="493.7" y="1027.5" textLength="194.2" lengthAdjust="spacingAndGlyphs">ns3::dsr::DsrRouteCacheEntry</text>
<text x="554.4" y="1042.5" textLength="72.7" lengthAdjust="spacingAndGlyphs">::GetVector</text>
<rect x="514.5" y="1077.5" width="152.0" height="40.0" fill="#ffffff" stroke="#000000" stroke-width="1.33"/>
<text x="524.4" y="1092.5" textLength="131.8" lengthAdjust="spacingAndGlyphs">ns3::dsr::DsrRouting</text>
<text x="535.9" y="1107.5" textLength="108.8" lengthAdjust="spacingAndGlyphs">::SearchNextHop</text>
<rect x="485.5" y="1142.5" width="211.0" height="40.0" fill="#ffffff" stroke="#ff0000" stroke-width="1.33"/>
<text x="495.8" y="1158.0" textLength="189.5" lengthAdjust="spacingAndGlyphs">ns3::dsr::DsrOptionSRHeader</text>
<text x="529.7" y="1173.0" textLength="121.6" lengthAdjust="spacingAndGlyphs">::SetNodesAddress</text>
<rect x="485.5" y="1208.5" width="211.0" height="40.0" fill="#ffffff" stroke="#000000" stroke-width="1.33"/>
<text x="495.8" y="1223.5" textLength="189.5" lengthAdjust="spacingAndGlyphs">ns3::dsr::DsrOptionSRHeader</text>
<text x="531.1" y="1238.5" textLength="118.8" lengthAdjust="spacingAndGlyphs">::SetSegmentsLeft</text>
<rect x="485.5" y="1273.5" width="211.0" height="40.0" fill="#ffffff" stroke="#000000" stroke-width="1.33"/>
<text x="495.8" y="1288.5" textLength="189.5" lengthAdjust="spacingAndGlyphs">ns3::dsr::DsrOptionSRHeader</text>
<text x="549.9" y="1303.5" textLength="81.2" lengthAdjust="spacingAndGlyphs">::SetSalvage</text>
<rect x="493.5" y="1338.5" width="194.0" height="40.0" fill="#ffffff" stroke="#000000" stroke-width="1.33"/>
<text x="504.1" y="1354.0" textLength="172.3" lengthAdjust="spacingAndGlyphs">ns3::dsr::DsrOptionHeader</text>
<text x="552.2" y="1369.0" textLength="76.1" lengthAdjust="spacingAndGlyphs">::GetLength</text>
<rect x="508.5" y="1404.5" width="164.0" height="40.0" fill="#ffffff" stroke="#000000" stroke-width="1.33"/>
<text x="518.8" y="1419.5" textLength="143.5" lengthAdjust="spacingAndGlyphs">ns3::dsr::DsrFsHeader</text>
<text x="528.2" y="1434.5" textLength="124.6" lengthAdjust="spacingAndGlyphs">::SetPayloadLength</text>
<rect x="502.5" y="1470.5" width="176.0" height="25.0" fill="#ffffff" stroke="#ff0000" stroke-width="1.33"/>
<text x="513.2" y="1485.5" textLength="154.6" lengthAdjust="spacingAndGlyphs">ns3::Packet::AddHeader</text>
<rect x="514.5" y="1521.5" width="152.0" height="40.0" fill="#ffffff" stroke="#ff0000" stroke-width="1.33"/>
<text x="524.4" y="1537.0" textLength="131.8" lengthAdjust="spacingAndGlyphs">ns3::dsr::DsrRouting</text>
<text x="556.6" y="1552.0" textLength="67.3" lengthAdjust="spacingAndGlyphs">::SetRoute</text>
<rect x="242.5" y="892.5" width="152.0" height="40.0" fill="#ffffff" stroke="#ff0000" stroke-width="1.33"/>
<text x="252.6" y="907.5" textLength="131.8" lengthAdjust="spacingAndGlyphs">ns3::dsr::DsrRouting</text>
<text x="260.3" y="922.5" textLength="116.4" lengthAdjust="spacingAndGlyphs">::PacketNewRoute</text>
<rect x="234.5" y="1525.5" width="168.0" height="26.0" fill="#ffffff" stroke="#ff0000" stroke-width="1.33"/>
<text x="245.4" y="1541.0" textLength="146.1" lengthAdjust="spacingAndGlyphs">ns3::Packet::CopyData</text>
<rect x="231.5" y="1577.5" width="175.0" height="40.0" fill="#ffffff" stroke="#000000" stroke-width="1.33"/>
<text x="241.5" y="1592.5" textLength="154.0" lengthAdjust="spacingAndGlyphs">ns3::dsr::DsrSendBuffer</text>
<text x="283.1" y="1607.5" textLength="70.8" lengthAdjust="spacingAndGlyphs">::GetBuffer</text>
<rect x="230.5" y="1642.5" width="176.0" height="40.0" fill="#ffffff" stroke="#000000" stroke-width="1.33"/>
<text x="240.9" y="1658.0" textLength="155.2" lengthAdjust="spacingAndGlyphs">ns3::dsr::DsrOptionField</text>
<text x="247.5" y="1673.0" textLength="142.0" lengthAdjust="spacingAndGlyphs">::GetDsrOptionsOffset</text>
<rect x="205.5" y="1708.5" width="227.0" height="40.0" fill="#ffffff" stroke="#000000" stroke-width="1.33"/>
<text x="215.6" y="1723.5" textLength="205.8" lengthAdjust="spacingAndGlyphs">ns3::dsr::DsrOptionRerrUnreach</text>
<text x="252.8" y="1738.5" textLength="131.5" lengthAdjust="spacingAndGlyphs">Header::GetErrorDst</text>
<rect x="205.5" y="1773.5" width="227.0" height="40.0" fill="#ffffff" stroke="#000000" stroke-width="1.33"/>
<text x="215.6" y="1788.5" textLength="205.8" lengthAdjust="spacingAndGlyphs">ns3::dsr::DsrOptionRerrUnreach</text>
<text x="253.5" y="1803.5" textLength="130.1" lengthAdjust="spacingAndGlyphs">Header::GetErrorSrc</text>
<rect x="242.5" y="1838.5" width="152.0" height="40.0" fill="#ffffff" stroke="#000000" stroke-width="1.33"/>
<text x="252.6" y="1854.0" textLength="131.8" lengthAdjust="spacingAndGlyphs">ns3::dsr::DsrRouting</text>
<text x="279.8" y="1869.0" textLength="77.5" lengthAdjust="spacingAndGlyphs">::GetPriority</text>
<rect x="205.5" y="1904.5" width="227.0" height="40.0" fill="#ffffff" stroke="#000000" stroke-width="1.33"/>
<text x="215.6" y="1919.5" textLength="205.8" lengthAdjust="spacingAndGlyphs">ns3::dsr::DsrOptionRerrUnreach</text>
<text x="253.6" y="1934.5" textLength="129.7" lengthAdjust="spacingAndGlyphs">Header::GetSalvage</text>
<rect x="231.5" y="1969.5" width="175.0" height="40.0" fill="#ffffff" stroke="#ff0000" stroke-width="1.33"/>
<text x="241.5" y="1984.5" textLength="154.0" lengthAdjust="spacingAndGlyphs">ns3::dsr::DsrSendBuffer</text>
<text x="289.4" y="1999.5" textLength="58.1" lengthAdjust="spacingAndGlyphs">::GetSize</text>
<rect x="241.5" y="2035.5" width="155.0" height="25.0" fill="#ffffff" stroke="#ff0000" stroke-width="1.33"/>
<text x="252.5" y="2050.5" textLength="132.1" lengthAdjust="spacingAndGlyphs">ns3::Packet::GetSize</text>
<rect x="205.5" y="2086.5" width="227.0" height="40.0" fill="#ffffff" stroke="#000000" stroke-width="1.33"/>
<text x="215.6" y="2102.0" textLength="205.8" lengthAdjust="spacingAndGlyphs">ns3::dsr::DsrOptionRerrUnreach</text>
<text x="235.6" y="2117.0" textLength="165.8" lengthAdjust="spacingAndGlyphs">Header::GetUnreachNode</text>
<rect x="227.5" y="2152.5" width="182.0" height="26.0" fill="#ffffff" stroke="#000000" stroke-width="1.33"/>
<text x="238.6" y="2168.0" textLength="159.3" lengthAdjust="spacingAndGlyphs">ns3::Timer::IsSuspended</text>
<rect x="217.5" y="2203.5" width="202.0" height="25.0" fill="#ffffff" stroke="#ff0000" stroke-width="1.33"/>
<text x="228.2" y="2218.5" textLength="180.1" lengthAdjust="spacingAndGlyphs">ns3::Packet::RemoveAtStart</text>
<rect x="216.5" y="2254.5" width="204.0" height="25.0" fill="#ffffff" stroke="#ff0000" stroke-width="1.33"/>
<text x="227.3" y="2269.5" textLength="181.9" lengthAdjust="spacingAndGlyphs">ns3::Packet::RemoveHeader</text>
<rect x="243.5" y="2304.5" width="151.0" height="26.0" fill="#ffffff" stroke="#ff0000" stroke-width="1.33"/>
<text x="254.1" y="2320.0" textLength="128.8" lengthAdjust="spacingAndGlyphs">ns3::Timer::Resume</text>
<rect x="227.5" y="2355.5" width="183.0" height="25.0" fill="#ffffff" stroke="#ff0000" stroke-width="1.33"/>
<text x="237.6" y="2370.5" textLength="161.7" lengthAdjust="spacingAndGlyphs">ns3::Simulator::Schedule</text>
<rect x="242.5" y="2406.5" width="152.0" height="40.0" fill="#ffffff" stroke="#ff0000" stroke-width="1.33"/>
<text x="252.6" y="2422.0" textLength="131.8" lengthAdjust="spacingAndGlyphs">ns3::dsr::DsrRouting</text>
<text x="281.9" y="2437.0" textLength="73.2" lengthAdjust="spacingAndGlyphs">::Scheduler</text>
<rect x="235.5" y="2472.5" width="167.0" height="40.0" fill="#ffffff" stroke="#ff0000" stroke-width="1.33"/>
<text x="246.5" y="2487.5" textLength="131.8" lengthAdjust="spacingAndGlyphs">ns3::dsr::DsrRouting</text>
<text x="246.5" y="2502.5" textLength="144.4" lengthAdjust="spacingAndGlyphs">::SendBuffTimerExpire</text>
<rect x="209.5" y="2537.5" width="219.0" height="40.0" fill="#ffffff" stroke="#000000" stroke-width="1.33"/>
<text x="219.0" y="2552.5" textLength="199.0" lengthAdjust="spacingAndGlyphs">ns3::dsr::DsrOptionRerrHeader</text>
<text x="273.1" y="2567.5" textLength="90.9" lengthAdjust="spacingAndGlyphs">::SetErrorType</text>
<rect x="223.5" y="2602.5" width="191.0" height="40.0" fill="#ffffff" stroke="#000000" stroke-width="1.33"/>
<text x="232.7" y="2617.5" textLength="171.6" lengthAdjust="spacingAndGlyphs">ns3::Ipv4Route::SetOutput</text>
<text x="296.5" y="2632.5" textLength="44.1" lengthAdjust="spacingAndGlyphs">Device</text>
<rect x="241.5" y="2668.5" width="155.0" height="26.0" fill="#ffffff" stroke="#ff0000" stroke-width="1.33"/>
<text x="252.2" y="2684.0" textLength="132.7" lengthAdjust="spacingAndGlyphs">ns3::Timer::Suspend</text>
<rect x="5.5" y="1468.5" width="152.0" height="40.0" fill="#bfbfbf" stroke="#000000" stroke-width="1.33"/>
<text x="15.1" y="1483.5" textLength="131.8" lengthAdjust="spacingAndGlyphs">ns3::dsr::DsrRouting</text>
<text x="21.0" y="1498.5" textLength="120.0" lengthAdjust="spacingAndGlyphs">::CheckSendBuffer</text>
</svg></body></html>
